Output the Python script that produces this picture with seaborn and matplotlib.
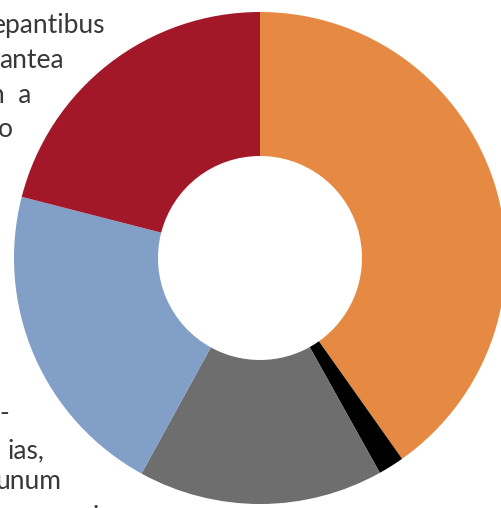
import matplotlib
matplotlib.use("Agg")
import matplotlib.pyplot as plt
import seaborn as sns

# Data (clockwise from 12 o'clock)
segments = ["Orange", "Black", "Gray", "Blue", "Red"]
values = [40.2, 1.7, 16.1, 21.0, 21.0]
colors = ["#E68A43", "#000000", "#6E6E6E", "#82A0C7", "#A21828"]

# Cropped body text fragments from surrounding page
text_fragments = ["epantibus", "antea", "n  a", "o", "-", "ias,", "unum", "."]
text_right = [105, 64, 31, 13, 9, 44, 61, 99]
text_base = [33, 68, 103, 137, 421, 458, 489, 508]

sns.set_theme(style="white")
plt.rcParams['font.family'] = ['Lato', 'DejaVu Sans']

W, H = 502, 508
fig = plt.figure(figsize=(W / 100, H / 100), dpi=100)
ax = fig.add_axes([0, 0, 1, 1])

cx, cy, R, r_in = 260, 258, 246, 102
# Pie drawn on a y-inverted axis: counterclock=True appears clockwise; start at top
ax.pie(values, colors=colors, startangle=-90, counterclock=True,
       center=(cx, cy), radius=R, frame=True,
       wedgeprops=dict(width=R - r_in, linewidth=0, antialiased=True))
ax.set_xlim(0, W)
ax.set_ylim(H, 0)
ax.set_aspect("equal")
ax.axis("off")

for t, x, y in zip(text_fragments, text_right, text_base):
    ax.text(x, y, t, ha="right", va="baseline", fontsize=19,
            color="#383838", fontweight="normal")

fig.savefig("out.png", dpi=100)
